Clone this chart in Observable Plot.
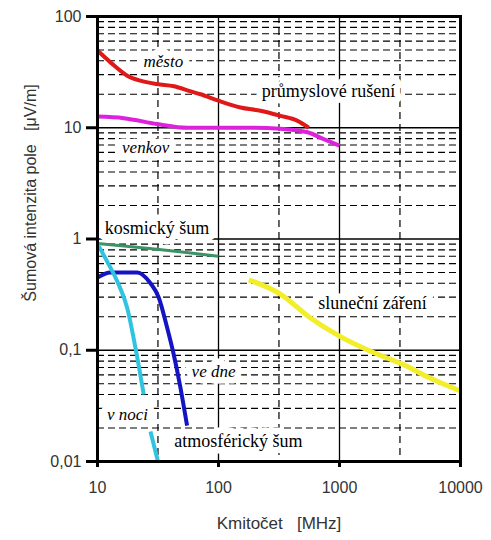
<!DOCTYPE html>
<html><head><meta charset="utf-8">
<script src="https://cdn.jsdelivr.net/npm/d3@7"></script>
<script src="https://cdn.jsdelivr.net/npm/@observablehq/plot@0.6"></script>
<style>body{margin:0;background:#fff}</style>
</head><body><div id="chart"></div>
<script>
// --- data ---
const mestoF = [10, 12.8, 17.6, 22.6, 31, 43, 59, 71, 100, 152, 222, 325, 446, 557];
const mestoV = [49.4, 38.7, 29.4, 26.5, 24.7, 23.6, 21.2, 20.0, 17.5, 15.2, 14.2, 12.8, 11.6, 10.0];
const venkovF = [10, 16.5, 31, 55, 100, 184, 325, 544, 740, 1000];
const venkovV = [12.6, 12.2, 10.8, 10, 10, 10, 9.8, 9.1, 7.9, 6.9];
const kosmickyF = [10, 16.5, 31, 59, 100];
const kosmickyV = [0.91, 0.865, 0.81, 0.75, 0.70];
const nociF = [10, 12, 14.5, 17.6, 20.6, 24.1, 25.5, 27.4, 31.6];
const nociV = [0.9, 0.63, 0.42, 0.24, 0.105, 0.04, null, 0.0186, 0.01];
const dneF = [10, 12.8, 21.3, 27.4, 32, 37.6, 42.7, 48.5, 55];
const dneV = [0.45, 0.5, 0.5, 0.40, 0.30, 0.16, 0.091, 0.046, 0.021];
const slunceF = [178, 325, 576, 1000, 1800, 3400, 5650, 10000];
const slunceV = [0.43, 0.32, 0.195, 0.134, 0.098, 0.074, 0.056, 0.043];

const xTicks = [10, 100, 1000, 10000];
const xTickLabels = ["10", "100", "1000", "10000"];
const yTicks = [0.01, 0.1, 1, 10, 100];
const yTickLabels = ["0,01", "0,1", "1", "10", "100"];
const xMajorGrid = [100, 1000];
const xMinorGrid = [31.6, 316, 3160];
const yMajorGrid = [0.1, 1, 10];
const yMinorGrid = [0.02,0.03,0.04,0.05,0.06,0.07,0.08,0.09,
                    0.2,0.3,0.4,0.5,0.6,0.7,0.8,0.9,
                    2,3,4,5,6,7,8,9,
                    20,30,40,50,60,70,80,90];

const labelText = ["město", "venkov", "ve dne", "v noci", "průmyslové rušení", "kosmický šum", "sluneční záření", "atmosférický šum"];
const labelF = [35, 25, 91, 17.7, 810, 31, 1875, 146];
const labelV = [39, 6.6, 0.065, 0.0265, 21.5, 1.26, 0.265, 0.0151];
const labelItalic = [true, true, true, true, false, false, false, false];

const xLabel = "Kmitočet\u00a0\u00a0\u00a0[MHz]";
const yLabel = "Šumová intenzita pole\u00a0\u00a0\u00a0[μV/m]";

// --- build tables ---
const series = (f, v) => f.map((x, i) => ({x, y: v[i]}));
const labels = labelText.map((t, i) => ({t, x: labelF[i], y: labelV[i], it: labelItalic[i]}));

const curve = (f, v, color, w) => Plot.line(series(f, v), {
  x: "x", y: "y", stroke: color, strokeWidth: w, curve: "monotone-x",
  strokeLinecap: "butt", strokeLinejoin: "round"
});

const labelStyle = {
  x: "x", y: "y", text: "t", fill: "black", stroke: "white", strokeWidth: 13,
  paintOrder: "stroke", fontFamily: "Liberation Serif"
};

const chart = Plot.plot({
  width: 491, height: 540,
  marginLeft: 97, marginRight: 31, marginTop: 16, marginBottom: 79,
  x: {type: "log", domain: [10, 10000]},
  y: {type: "log", domain: [0.01, 100]},
  style: {fontFamily: "Liberation Sans", fontSize: "15px", background: "white", overflow: "visible"},
  marks: [
    Plot.ruleY(yMinorGrid, {stroke: "black", strokeWidth: 1.2, strokeDasharray: "7,4"}),
    Plot.ruleX(xMinorGrid, {stroke: "black", strokeWidth: 1.2, strokeDasharray: "7,5"}),
    Plot.ruleY(yMajorGrid, {stroke: "black", strokeWidth: 1.3}),
    Plot.ruleX(xMajorGrid, {stroke: "black", strokeWidth: 1.3}),
    Plot.text(labels.filter(d => d.it), {...labelStyle, fontStyle: "italic", fontSize: 17}),
    Plot.text(labels.filter(d => !d.it), {...labelStyle, fontSize: 18}),
    curve(kosmickyF, kosmickyV, "#3c9466", 3),
    curve(mestoF, mestoV, "#e01818", 4),
    curve(venkovF, venkovV, "#dd22dd", 4),
    curve(slunceF, slunceV, "#f2ee2a", 5),
    curve(dneF, dneV, "#1414c4", 4),
    curve(nociF, nociV, "#30c4e0", 4),
    Plot.frame({stroke: "black", strokeWidth: 3}),
    Plot.axisY(yTicks, {
      tickFormat: d => yTickLabels[yTicks.indexOf(d)],
      tickSize: 11, tickPadding: 5, strokeWidth: 3, stroke: "black",
      fill: "#333", fontSize: 16, label: null
    }),
    Plot.axisX(xTicks, {
      tickFormat: d => xTickLabels[xTicks.indexOf(d)],
      tickSize: 6, tickPadding: 14, strokeWidth: 3, stroke: "black",
      fill: "#333", fontSize: 16, label: null
    }),
    Plot.text([xLabel], {text: d => d, frameAnchor: "bottom", lineAnchor: "middle", textAnchor: "middle", dy: 62, fill: "#333", fontSize: 17}),
    Plot.text([yLabel], {text: d => d, frameAnchor: "left", lineAnchor: "middle", textAnchor: "middle", rotate: -90, dx: -67, dy: -46, fill: "#333", fontSize: 16})
  ]
});
document.getElementById("chart").appendChild(chart);
</script>
</body></html>
